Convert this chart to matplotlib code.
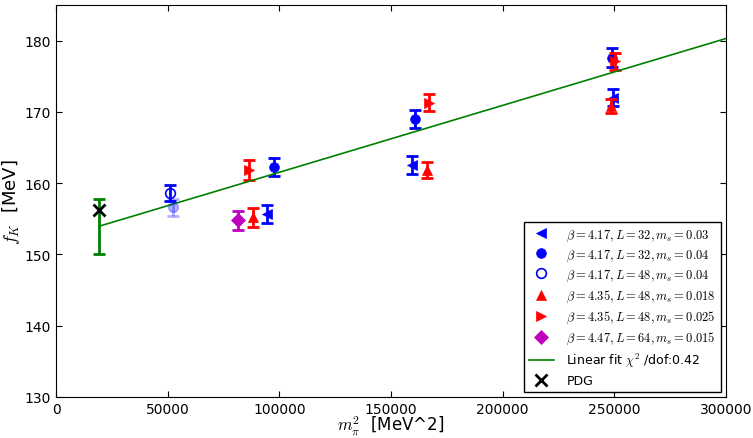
import matplotlib
matplotlib.use('Agg')
from matplotlib import pyplot as plt

plt.rcParams['mathtext.fontset'] = 'cm'
plt.rcParams['font.family'] = 'DejaVu Sans'

# m_pi^2 [MeV^2], f_K [MeV], error
b417_L32_s03_x = [94600, 159600, 249300]
b417_L32_s03_y = [155.7, 162.5, 172.0]
b417_L32_s03_e = [1.24, 1.26, 1.17]

b417_L32_s04_x = [97600, 160600, 248800]
b417_L32_s04_y = [162.3, 169.0, 177.6]
b417_L32_s04_e = [1.25, 1.28, 1.30]

b417_L48_s04_x = [51000]
b417_L48_s04_y = [158.6]
b417_L48_s04_e = [1.16]

# faint extra point (no legend entry)
faint_x = [52500]
faint_y = [156.6]
faint_e = [1.2]

b435_L48_s018_x = [88400, 166000, 248400]
b435_L48_s018_y = [155.2, 161.9, 170.8]
b435_L48_s018_e = [1.28, 1.12, 1.0]

b435_L48_s025_x = [86400, 167200, 250300]
b435_L48_s025_y = [161.8, 171.3, 177.1]
b435_L48_s025_e = [1.40, 1.17, 1.17]

b447_L64_s015_x = [81300]
b447_L64_s015_y = [154.8]
b447_L64_s015_e = [1.30]

fit_x = [19300, 300000]
fit_y = [153.96, 180.3]
fit_phys_e = 3.85

pdg_x = [19300]
pdg_y = [156.2]

series = [
    (b417_L32_s03_x, b417_L32_s03_y, b417_L32_s03_e, '<', 'b', 'b', r'$\beta=4.17,L=32,m_s=0.03$'),
    (b417_L32_s04_x, b417_L32_s04_y, b417_L32_s04_e, 'o', 'b', 'b', r'$\beta=4.17,L=32,m_s=0.04$'),
    (b417_L48_s04_x, b417_L48_s04_y, b417_L48_s04_e, 'o', 'b', 'none', r'$\beta=4.17,L=48,m_s=0.04$'),
    (b435_L48_s018_x, b435_L48_s018_y, b435_L48_s018_e, '^', 'r', 'r', r'$\beta=4.35,L=48,m_s=0.018$'),
    (b435_L48_s025_x, b435_L48_s025_y, b435_L48_s025_e, '>', 'r', 'r', r'$\beta=4.35,L=48,m_s=0.025$'),
    (b447_L64_s015_x, b447_L64_s015_y, b447_L64_s015_e, 'D', 'm', 'm', r'$\beta=4.47,L=64,m_s=0.015$'),
]

fig = plt.figure(figsize=(7.53, 4.39), dpi=100)
ax = fig.add_axes([0.0744, 0.0934, 0.8897, 0.8929])

for x, y, e, m, c, fc, lab in series:
    ax.errorbar(x, y, yerr=e, fmt='none', ecolor=c, elinewidth=2, capsize=4, capthick=2)
    ax.plot(x, y, m, color=c, mfc=fc, mec=c, mew=1.2 if fc == 'none' else 0.5,
            markersize=7, linestyle='none', label=lab)

ax.errorbar(faint_x, faint_y, yerr=faint_e, fmt='o', color='b', alpha=0.3,
            elinewidth=2, capsize=4, capthick=2, markersize=7, mec='b')

ax.plot(fit_x, fit_y, '-', color='g', lw=1.2, label=r'Linear fit $\chi^2$ /dof:0.42')
ax.errorbar([fit_x[0]], [fit_y[0]], yerr=fit_phys_e, fmt='none', ecolor='g',
            elinewidth=2, capsize=4, capthick=2)
ax.plot(pdg_x, pdg_y, 'x', color='k', markersize=8, mew=2, label='PDG')

ax.set_xlim(0, 300000)
ax.set_ylim(130, 185)
ax.set_xticks([0, 50000, 100000, 150000, 200000, 250000, 300000])
ax.set_yticks([130, 140, 150, 160, 170, 180])
ax.tick_params(direction='in', top=True, right=True, labelsize=10, length=4)
ax.set_xlabel(r'$m_\pi^2$  [MeV^2]', fontsize=12, labelpad=-1)
ax.set_ylabel(r'$f_K$  [MeV]', fontsize=13, labelpad=2)

leg = ax.legend(loc='lower right', numpoints=1, fontsize=9, fancybox=False,
                framealpha=1, edgecolor='k', borderaxespad=0.4,
                labelspacing=0.38, handletextpad=1.0, borderpad=0.4)
leg.get_frame().set_linewidth(1)

plt.savefig('out.png', dpi=100)
